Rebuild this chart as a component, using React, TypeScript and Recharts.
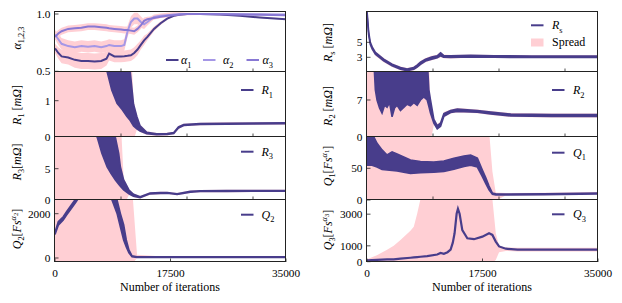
import React from 'react'
import { ComposedChart, Area, Line, XAxis, YAxis } from 'recharts'

const INK = '#483d8b'
const ALPHA2 = '#a597e6'
const ALPHA3 = '#8878d4'
const SPREAD = '#ffcfd4'
const FRAME = '#222'
const FONT = '"Liberation Serif", "DejaVu Serif", serif'

const ITER_MAX = 35000
const xTicksTop = [10000, 20000, 30000]
const xTicksBottom = [0, 17500, 35000]

// alpha_1,2,3 panel
const alphaIt = [0, 500, 1000, 2000, 3000, 4000, 5000, 6000, 7000, 7800, 8200, 9000, 10000, 10500, 11000, 11500, 12000, 12500, 13000, 13500, 14000, 15000, 16000, 17000, 18000, 19000, 20000, 22000, 25000, 28000, 31000, 35000]
const alpha1 = [0.7, 0.66, 0.63, 0.62, 0.6, 0.59, 0.59, 0.585, 0.59, 0.61, 0.655, 0.63, 0.63, 0.632, 0.635, 0.64, 0.66, 0.69, 0.73, 0.77, 0.8, 0.87, 0.92, 0.96, 0.985, 0.995, 1.0, 1.0, 0.995, 0.985, 0.97, 0.955]
const alpha2 = [0.82, 0.78, 0.74, 0.72, 0.71, 0.72, 0.715, 0.72, 0.71, 0.72, 0.73, 0.72, 0.72, 0.73, 0.85, 0.93, 0.96, 0.96, 0.93, 0.91, 0.93, 0.975, 0.985, 0.99, 0.995, 1.0, 1.0, 1.0, 1.0, 0.998, 0.997, 0.995]
const alpha3 = [0.8, 0.83, 0.85, 0.87, 0.875, 0.88, 0.89, 0.89, 0.885, 0.88, 0.875, 0.87, 0.865, 0.86, 0.86, 0.855, 0.85, 0.87, 0.9, 0.94, 0.955, 0.965, 0.975, 0.985, 0.99, 0.995, 1.0, 1.0, 0.998, 0.996, 0.994, 0.99]
// half width of the pink spread around each alpha
const alpha1Spread = [0.04, 0.05, 0.06, 0.06, 0.07, 0.07, 0.07, 0.07, 0.07, 0.06, 0.06, 0.05, 0.05, 0.05, 0.05, 0.05, 0.05, 0.05, 0.04, 0.04, 0.03, 0.02, 0.015, 0.01, 0.008, 0.006, 0.005, 0.005, 0.005, 0.005, 0.005, 0.005]
const alpha2Spread = [0.04, 0.05, 0.05, 0.05, 0.05, 0.05, 0.05, 0.05, 0.05, 0.05, 0.05, 0.05, 0.05, 0.05, 0.05, 0.05, 0.05, 0.05, 0.05, 0.04, 0.03, 0.02, 0.02, 0.02, 0.02, 0.015, 0.01, 0.008, 0.006, 0.005, 0.005, 0.005]
const alpha3Spread = [0.03, 0.03, 0.03, 0.03, 0.03, 0.03, 0.03, 0.03, 0.03, 0.03, 0.03, 0.03, 0.03, 0.03, 0.03, 0.03, 0.03, 0.03, 0.03, 0.03, 0.02, 0.015, 0.01, 0.008, 0.006, 0.005, 0.005, 0.005, 0.005, 0.005, 0.005, 0.005]

// R1 (noisy band: lo/hi)
const r1It = [0, 2000, 4000, 6000, 7000, 7900, 8600, 9400, 10200, 10900, 11400, 11900, 12400, 12900, 13900, 15400, 17000, 18000, 18700, 19500, 22000, 26000, 30000, 35000]
const r1Lo = [2.5, 2.5, 2.5, 2.4, 2.2, 1.8, 1.3, 0.93, 0.75, 0.56, 0.45, 0.3, 0.22, 0.16, 0.08, 0.055, 0.06, 0.09, 0.24, 0.31, 0.34, 0.35, 0.355, 0.36]
const r1Hi = [3, 3, 3, 3, 3, 3, 3, 3, 3, 3, 1.8, 0.9, 0.56, 0.3, 0.12, 0.08, 0.085, 0.115, 0.27, 0.335, 0.365, 0.375, 0.38, 0.385]
const r1SpreadLo = [-0.1, -0.1, -0.1, -0.1, -0.1, -0.1, -0.1, -0.1, -0.1, -0.1, -0.1, -0.1, 0.19, 0.13, 0.05, 0.03, 0.035, 0.07, 0.21, 0.29, 0.32, 0.33, 0.335, 0.34]
const r1SpreadHi = [3, 3, 3, 3, 3, 3, 3, 3, 3, 3, 3, 1.0, 0.6, 0.33, 0.15, 0.1, 0.11, 0.14, 0.3, 0.36, 0.39, 0.4, 0.405, 0.41]

// R3
const r3It = [0, 3000, 6000, 6400, 7100, 7900, 8500, 9150, 9650, 9900, 10400, 11200, 11900, 12900, 14400, 16000, 17000, 18500, 20500, 22000, 26000, 30000, 35000]
const r3Lo = [13, 13, 11, 10, 7.45, 5.3, 4.2, 3.2, 2.5, 2.2, 1.6, 1.0, 0.6, 0.38, 0.98, 1.05, 1.08, 0.88, 1.25, 1.36, 1.38, 1.4, 1.4]
const r3Hi = [14, 14, 14, 14, 14, 14, 14, 10, 7.45, 5.3, 3.2, 1.6, 0.9, 0.5, 1.1, 1.17, 1.2, 1.0, 1.37, 1.48, 1.5, 1.52, 1.52]
const r3SpreadLo = [-1, -1, -1, -1, -1, -1, -1, -1, -1, -1, -1, 0.8, 0.45, 0.25, 0.85, 0.92, 0.95, 0.75, 1.12, 1.22, 1.25, 1.27, 1.27]
const r3SpreadHi = [14, 14, 14, 14, 14, 14, 14, 14, 14, 14, 3.5, 1.8, 1.05, 0.65, 1.25, 1.3, 1.33, 1.13, 1.5, 1.6, 1.63, 1.65, 1.65]

// Q2
const q2It = [0, 500, 1250, 1750, 2500, 3200, 4000, 6000, 8000, 8640, 9400, 9900, 10400, 10800, 11200, 11670, 12430, 17500, 25000, 35000]
const q2Lo = [1060, 1480, 1720, 1940, 2240, 2540, 2900, 3000, 2900, 2618, 2015, 1413, 813, 500, 230, 60, 25, 20, 20, 20]
const q2Hi = [1170, 1640, 1860, 2090, 2400, 2700, 3100, 3200, 3200, 3200, 2618, 2015, 1500, 813, 361, 95, 55, 50, 50, 50]
const q2SpreadLo = [-300, -300, -300, -300, -300, -300, -300, -300, -300, -300, -300, -300, -300, -300, -300, -300, 10, 10, 10, 10]
const q2SpreadHi = [3200, 3200, 3200, 3200, 3200, 3200, 3200, 3200, 3200, 3200, 3200, 3200, 3200, 3200, 3200, 3200, 150, 50, 50, 50]

// R_s
const rsIt = [0, 250, 500, 800, 1270, 2530, 3800, 5070, 6080, 7090, 7600, 8100, 8870, 9800, 10640, 11150, 11600, 12670, 15700, 19250, 25000, 30000, 35000]
const rsLo = [8.7, 6.0, 4.7, 4.1, 3.4, 2.52, 1.86, 1.42, 1.2, 1.42, 1.7, 2.05, 2.5, 2.75, 2.95, 3.2, 3.0, 2.98, 3.05, 3.0, 2.98, 2.98, 2.97]
const rsHi = [9.2, 6.4, 5.0, 4.35, 3.65, 2.76, 2.08, 1.64, 1.42, 1.64, 1.95, 2.35, 2.75, 3.05, 3.2, 3.6, 3.25, 3.2, 3.25, 3.2, 3.18, 3.17, 3.17]
const rsSpreadLo = [8.3, 5.7, 4.5, 3.9, 3.2, 2.35, 1.7, 1.28, 1.08, 1.28, 1.55, 1.9, 2.35, 2.6, 2.8, 3.0, 2.88, 2.85, 2.93, 2.9, 2.9, 2.9, 2.9]
const rsSpreadHi = [9.4, 6.6, 5.2, 4.5, 3.8, 2.9, 2.22, 1.78, 1.56, 1.78, 2.1, 2.5, 2.9, 3.2, 3.35, 3.75, 3.38, 3.32, 3.35, 3.3, 3.28, 3.27, 3.27]

// R2
const r2It = [0, 1100, 1267, 1520, 1900, 2280, 2660, 3040, 3420, 3800, 4180, 4560, 5070, 5570, 6080, 6580, 7090, 7600, 8100, 8610, 9120, 9370, 9620, 10130, 10640, 11150, 11650, 12670, 13680, 16720, 18750, 21790, 28000, 35000]
const r2Lo = [14, 13, 8.9, 7.0, 5.5, 4.5, 6.0, 5.6, 6.5, 3.8, 5.5, 6.0, 5.0, 5.6, 6.2, 5.9, 6.5, 6.0, 7.0, 7.6, 7.0, 5.8, 4.5, 2.56, 1.5, 2.0, 3.9, 4.6, 4.8, 4.65, 4.35, 3.95, 3.85, 3.85]
const r2Hi = [15, 15, 15, 15, 15, 15, 15, 15, 15, 15, 15, 15, 15, 15, 15, 15, 15, 15, 15, 15, 15, 9.0, 7.0, 3.3, 2.1, 2.6, 4.4, 5.0, 5.25, 5.0, 4.7, 4.3, 4.2, 4.2]
const r2SpreadLo = [-1, -1, -1, -1, -1, -1, -1, -1, -1, -1, -1, -1, -1, -1, -1, -1, -1, -1, -1, -1, -1, -1, -1, 2.3, 1.3, 1.8, 3.7, 4.4, 4.6, 4.45, 4.15, 3.75, 3.65, 3.65]
const r2SpreadHi = [15, 15, 15, 15, 15, 15, 15, 15, 15, 15, 15, 15, 15, 15, 15, 15, 15, 15, 15, 15, 15, 15, 6.0, 3.6, 2.4, 2.9, 4.7, 5.2, 5.45, 5.2, 4.9, 4.5, 4.4, 4.4]

// Q1
const q1It = [0, 760, 1520, 2280, 3040, 3800, 4560, 5570, 6580, 8100, 10130, 11650, 13170, 14690, 15700, 16720, 17480, 18000, 18490, 19000, 19500, 21000, 26840, 35000]
const q1Lo = [55, 55, 52, 48, 47.4, 46.5, 46, 44, 42, 43, 43.7, 45, 48.4, 53, 55, 52, 36.8, 26, 16, 9, 8, 8, 8.5, 9.5]
const q1Hi = [110, 105, 89.5, 79, 71, 76, 72.6, 68, 63, 60.5, 60, 61.6, 65.8, 69.5, 71, 66, 47.4, 35, 22, 11, 9.8, 9.5, 9.8, 11]
const q1SpreadLo = [-1, -1, -1, -1, -1, -1, -1, -1, -1, -1, -1, -1, -1, -1, -1, -1, -1, -1, -1, -1, -1, 7, 7.5, 8.5]
const q1SpreadHi = [110, 110, 110, 110, 110, 110, 110, 110, 110, 110, 110, 110, 110, 110, 110, 110, 110, 110, 110, 45, 12, 11, 11.3, 12.5]

// Q3
const q3It = [0, 1500, 3040, 4050, 5070, 6580, 7090, 7600, 8100, 9120, 10640, 11150, 11650, 12200, 12670, 13000, 13270, 13580, 13780, 14030, 14440, 15200, 16210, 17480, 18490, 19000, 19510, 20010, 21030, 22800, 28000, 35000]
const q3 = [80, 110, 140, 142, 190, 247, 270, 290, 310, 346, 450, 555, 500, 600, 760, 1200, 1790, 3025, 3333, 3025, 1994, 1481, 1420, 1580, 1790, 1690, 1270, 963, 821, 760, 760, 760]
const q3SpreadLo = [-50, -50, -50, -50, -50, -50, -50, -50, -50, -50, -50, -50, -50, -50, -50, -50, -50, -50, -50, -50, -50, -50, -50, -50, -50, -50, 100, 600, 680, 650, 640, 640]
const q3SpreadHi = [150, 400, 760, 1000, 1376, 1950, 2200, 3025, 3950, 3950, 3950, 3950, 3950, 3950, 3950, 3950, 3950, 3950, 3950, 3950, 3950, 3950, 3950, 3950, 3950, 3950, 1790, 1000, 900, 880, 880, 880]

const alphaRows = alphaIt.map((it, i) => ({
  it,
  a1: alpha1[i],
  a2: alpha2[i],
  a3: alpha3[i],
  s1: [alpha1[i] - alpha1Spread[i], alpha1[i] + alpha1Spread[i]],
  s2: [alpha2[i] - alpha2Spread[i], alpha2[i] + alpha2Spread[i]],
  s3: [alpha3[i] - alpha3Spread[i], alpha3[i] + alpha3Spread[i]],
}))

const bandRows = (xs: number[], lo: number[], hi: number[], sLo: number[], sHi: number[]) =>
  xs.map((it, i) => ({ it, band: [lo[i], hi[i]], spread: [sLo[i], sHi[i]] }))

const r1Rows = bandRows(r1It, r1Lo, r1Hi, r1SpreadLo, r1SpreadHi)
const r3Rows = bandRows(r3It, r3Lo, r3Hi, r3SpreadLo, r3SpreadHi)
const q2Rows = bandRows(q2It, q2Lo, q2Hi, q2SpreadLo, q2SpreadHi)
const rsRows = bandRows(rsIt, rsLo, rsHi, rsSpreadLo, rsSpreadHi)
const r2Rows = bandRows(r2It, r2Lo, r2Hi, r2SpreadLo, r2SpreadHi)
const q1Rows = bandRows(q1It, q1Lo, q1Hi, q1SpreadLo, q1SpreadHi)
const q3Rows = q3It.map((it, i) => ({ it, q3: q3[i], spread: [q3SpreadLo[i], q3SpreadHi[i]] }))

// layout
const COL_L = 55
const COL_R = 367
const PLOT_W = 231
const ROW_TOP = [12, 72, 137, 200]
const ROW_H = [60, 65, 63, 62]
const Y_W = 48
const MARGIN = { top: 8, right: 20, bottom: 0, left: 0 }

function YTick(props: any) {
  const { x, y, payload, fmt } = props
  return (
    <g>
      <line x1={x} x2={x + 3.5} y1={y} y2={y} stroke={FRAME} strokeWidth={0.8} />
      <text x={x - 4.5} y={y} dy="0.36em" textAnchor="end" fontFamily={FONT} fontSize={11.3} fill="#000">
        {fmt ? fmt(payload.value) : payload.value}
      </text>
    </g>
  )
}

function XTick(props: any) {
  const { x, y, payload, labeled } = props
  return (
    <g>
      <line x1={x} x2={x} y1={y} y2={y - 3.5} stroke={FRAME} strokeWidth={0.8} />
      {labeled && (
        <text x={x} y={y + 14.5} textAnchor="middle" fontFamily={FONT} fontSize={11.3} fill="#000">
          {payload.value}
        </text>
      )}
    </g>
  )
}

interface PanelProps {
  left: number
  row: number
  domain: [number, number]
  yTicks: number[]
  yFmt?: (v: number) => string
  bottom?: boolean
  data: any[]
  children: React.ReactNode
}

function Panel({ left, row, domain, yTicks, yFmt, bottom, data, children }: PanelProps) {
  // room under the plot so the lowest tick label is not cut
  const xh = bottom ? 22 : 8
  return (
    <div style={{ position: 'absolute', left: left - Y_W, top: ROW_TOP[row] - MARGIN.top }}>
      <ComposedChart width={Y_W + PLOT_W + MARGIN.right} height={MARGIN.top + ROW_H[row] + xh} data={data} margin={MARGIN}>
        <XAxis dataKey="it" type="number" domain={[0, ITER_MAX]} ticks={bottom ? xTicksBottom : xTicksTop} interval={0}
          allowDataOverflow height={xh} tickSize={0} tickMargin={0} tickLine={false} axisLine={false}
          tick={<XTick labeled={!!bottom} />} />
        <YAxis type="number" domain={domain} ticks={yTicks} interval={0} allowDataOverflow width={Y_W}
          tickSize={0} tickMargin={0} tickLine={false} axisLine={false} tick={<YTick fmt={yFmt} />} />
        {children}
      </ComposedChart>
    </div>
  )
}

type Seg = { t: string; i?: boolean; s?: 'sub' | 'sup' | 'supsub' }

function MathText({ x, y, segs, size = 12, anchor = 'start', rotate = false }:
  { x: number; y: number; segs: Seg[]; size?: number; anchor?: string; rotate?: boolean }) {
  let cur = 0
  const spans = segs.map((sg, k) => {
    const off = sg.s === 'sub' ? size * 0.3 : sg.s === 'sup' ? -size * 0.4 : sg.s === 'supsub' ? -size * 0.2 : 0
    const fs = sg.s === 'supsub' ? size * 0.55 : sg.s ? size * 0.7 : size
    const dy = off - cur
    cur = off
    return (
      <tspan key={k} dy={dy} fontSize={fs} fontStyle={sg.i ? 'italic' : 'normal'}>{sg.t}</tspan>
    )
  })
  return (
    <text x={x} y={y} textAnchor={anchor as any} fontFamily={FONT} fontSize={size} fill="#000"
      transform={rotate ? `rotate(-90 ${x} ${y})` : undefined}>
      {spans}
    </text>
  )
}

const sym = (s: string, sub: string): Seg[] => [{ t: s, i: true }, { t: sub, s: 'sub' }]

const yLabels: { x: number; y: number; segs: Seg[] }[] = [
  { x: 20.5, y: 38, segs: sym('α', '1,2,3') },
  { x: 20.5, y: 105, segs: [...sym('R', '1'), { t: ' [' }, { t: 'mΩ', i: true }, { t: ']' }] },
  { x: 20.5, y: 162, segs: [...sym('R', '3'), { t: '[' }, { t: 'mΩ', i: true }, { t: ']' }] },
  { x: 20.5, y: 229, segs: [...sym('Q', '2'), { t: '[' }, { t: 'Fs', i: true }, { t: 'α', i: true, s: 'sup' }, { t: '2', s: 'supsub' }, { t: ']' }] },
  { x: 331.5, y: 42.5, segs: [...sym('R', 's'), { t: ' [' }, { t: 'mΩ', i: true }, { t: ']' }] },
  { x: 331.5, y: 106, segs: [...sym('R', '2'), { t: ' [' }, { t: 'mΩ', i: true }, { t: ']' }] },
  { x: 331.5, y: 166, segs: [...sym('Q', '1'), { t: '[' }, { t: 'Fs', i: true }, { t: 'α', i: true, s: 'sup' }, { t: '1', s: 'supsub' }, { t: ']' }] },
  { x: 331.5, y: 230, segs: [...sym('Q', '3'), { t: '[' }, { t: 'Fs', i: true }, { t: 'α', i: true, s: 'sup' }, { t: '3', s: 'supsub' }, { t: ']' }] },
]

const legends: { x: number; y: number; color: string; segs: Seg[]; tx: number }[] = [
  { x: 166, y: 60, color: INK, segs: sym('α', '1'), tx: 181 },
  { x: 203, y: 60, color: ALPHA2, segs: sym('α', '2'), tx: 223 },
  { x: 246.5, y: 60, color: ALPHA3, segs: sym('α', '3'), tx: 262.5 },
  { x: 241, y: 90, color: INK, segs: sym('R', '1'), tx: 261.5 },
  { x: 241, y: 151.7, color: INK, segs: sym('R', '3'), tx: 261.5 },
  { x: 241, y: 214.7, color: INK, segs: sym('Q', '2'), tx: 261.5 },
  { x: 531, y: 25.3, color: INK, segs: sym('R', 's'), tx: 552 },
  { x: 552, y: 90, color: INK, segs: sym('R', '2'), tx: 573 },
  { x: 552, y: 152.7, color: INK, segs: sym('Q', '1'), tx: 573 },
  { x: 552, y: 214.3, color: INK, segs: sym('Q', '3'), tx: 573 },
]

const spreadArea = (key = 'spread') => (
  <Area key={key} dataKey={key} type="linear" fill={SPREAD} fillOpacity={1} stroke="none" isAnimationActive={false} />
)
const bandArea = () => (
  <Area key="band" dataKey="band" type="linear" fill={INK} fillOpacity={1} stroke={INK} strokeWidth={1.6} isAnimationActive={false} />
)

export default function App() {
  return (
    <div style={{ position: 'absolute', left: 0, top: 0, width: 622, height: 303, background: '#fff', overflow: 'hidden' }}>
      <Panel left={COL_L} row={0} domain={[0.494, 1.0175]} yTicks={[0.5, 1]} yFmt={(v) => v.toFixed(1)} data={alphaRows}>
        {spreadArea('s1')}
        {spreadArea('s2')}
        {spreadArea('s3')}
        <Line dataKey="a1" type="linear" stroke={INK} strokeWidth={2} dot={false} isAnimationActive={false} />
        <Line dataKey="a2" type="linear" stroke={ALPHA2} strokeWidth={2} dot={false} isAnimationActive={false} />
        <Line dataKey="a3" type="linear" stroke={ALPHA3} strokeWidth={2} dot={false} isAnimationActive={false} />
      </Panel>
      <Panel left={COL_L} row={1} domain={[-0.008, 1.797]} yTicks={[0, 1]} data={r1Rows}>
        {spreadArea()}
        {bandArea()}
      </Panel>
      <Panel left={COL_L} row={2} domain={[0, 10.06]} yTicks={[0, 5]} data={r3Rows}>
        {spreadArea()}
        {bandArea()}
      </Panel>
      <Panel left={COL_L} row={3} domain={[-181, 2618]} yTicks={[0, 2000]} data={q2Rows} bottom>
        {spreadArea()}
        {bandArea()}
      </Panel>
      <Panel left={COL_R} row={0} domain={[1.04, 9.04]} yTicks={[3, 5]} data={rsRows}>
        {spreadArea()}
        {bandArea()}
      </Panel>
      <Panel left={COL_R} row={1} domain={[-0.06, 12.34]} yTicks={[0, 7]} data={r2Rows}>
        {spreadArea()}
        {bandArea()}
      </Panel>
      <Panel left={COL_R} row={2} domain={[0, 99.4]} yTicks={[0, 50]} data={q1Rows}>
        {spreadArea()}
        {bandArea()}
      </Panel>
      <Panel left={COL_R} row={3} domain={[-20, 3894]} yTicks={[0, 1000, 3000]} data={q3Rows} bottom>
        {spreadArea()}
        <Line dataKey="q3" type="linear" stroke={INK} strokeWidth={2.2} dot={false} isAnimationActive={false} />
      </Panel>

      <svg width={622} height={303} style={{ position: 'absolute', left: 0, top: 0, pointerEvents: 'none' }}>
        {[COL_L, COL_R].map((cx) =>
          ROW_TOP.map((ty, r) => (
            <rect key={`${cx}-${r}`} x={cx - 0.5} y={ty - 0.5} width={PLOT_W} height={ROW_H[r]} fill="none" stroke={FRAME} strokeWidth={1} />
          ))
        )}
        {yLabels.map((l, k) => (
          <MathText key={k} x={l.x} y={l.y} segs={l.segs} anchor="middle" rotate />
        ))}
        {legends.map((l, k) => (
          <g key={k}>
            <line x1={l.x} x2={l.x + 12.5} y1={l.y} y2={l.y} stroke={l.color} strokeWidth={2} />
            <MathText x={l.tx} y={l.y + 4} segs={l.segs} />
          </g>
        ))}
        <rect x={531} y={38.5} width={12.5} height={8} fill={SPREAD} />
        <text x={552} y={46} fontFamily={FONT} fontSize={12} fill="#000">Spread</text>
        <text x={170} y={291} textAnchor="middle" fontFamily={FONT} fontSize={12} fill="#000">Number of iterations</text>
        <text x={482} y={291} textAnchor="middle" fontFamily={FONT} fontSize={12} fill="#000">Number of iterations</text>
      </svg>
    </div>
  )
}
